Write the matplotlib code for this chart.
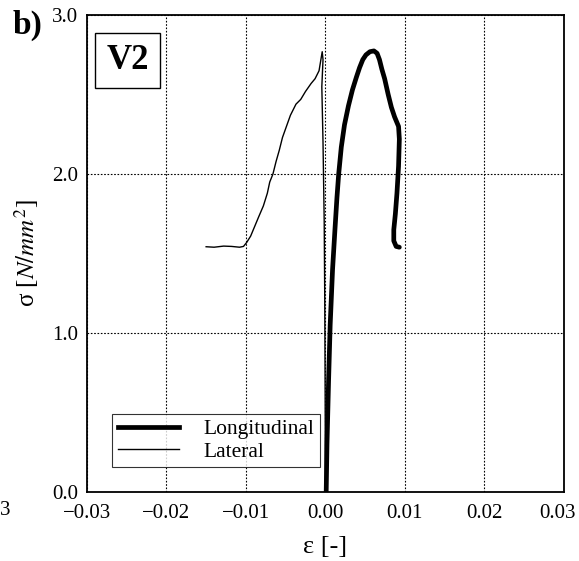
import matplotlib

matplotlib.use("Agg")
import matplotlib.pyplot as plt
import matplotlib.transforms as mtransforms
from matplotlib.lines import Line2D

plt.rcParams["font.family"] = ["Liberation Serif", "DejaVu Serif"]
plt.rcParams["mathtext.fontset"] = "stix"

# Longitudinal strain / stress
long_eps = [0.0001, 0.0002, 0.0004, 0.0006, 0.0009, 0.0012, 0.00145, 0.00167,
            0.0020, 0.0024, 0.0029, 0.0034, 0.0039, 0.0043, 0.0047, 0.0051,
            0.0056, 0.0061, 0.0065, 0.0068, 0.0071, 0.00745, 0.0079, 0.0083,
            0.0087, 0.0092, 0.0093, 0.0092, 0.0090, 0.0088, 0.0086, 0.0086,
            0.0089, 0.0093]
long_sig = [0.0, 0.3, 0.7, 1.05, 1.4, 1.65, 1.85, 2.0,
            2.17, 2.31, 2.43, 2.53, 2.61, 2.67, 2.72, 2.75,
            2.77, 2.775, 2.76, 2.72, 2.66, 2.60, 2.50, 2.42,
            2.36, 2.30, 2.22, 2.05, 1.88, 1.75, 1.65, 1.58,
            1.545, 1.54]

# Lateral strain / stress
lat_eps = [0.0, -0.00003, -0.00008, -0.00015, -0.0003, -0.00045, -0.0003,
           -0.0004, -0.0008, -0.0013, -0.0018, -0.0025, -0.0031, -0.0037,
           -0.0044, -0.0049, -0.0054, -0.0058, -0.0062, -0.0066, -0.0070,
           -0.0073, -0.0078, -0.0084, -0.0089, -0.0094, -0.0099, -0.0103,
           -0.0108, -0.0118, -0.0128, -0.0140, -0.0150]
lat_sig = [0.0, 0.6, 1.2, 1.7, 2.2, 2.55, 2.72,
           2.77, 2.65, 2.60, 2.57, 2.52, 2.47, 2.44,
           2.37, 2.30, 2.23, 2.15, 2.08, 2.00, 1.95,
           1.88, 1.80, 1.73, 1.67, 1.61, 1.57, 1.545,
           1.54, 1.545, 1.547, 1.540, 1.543]

XTICKS = [-0.03, -0.02, -0.01, 0.0, 0.01, 0.02, 0.03]
YTICKS = [0.0, 1.0, 2.0, 3.0]

fig = plt.figure(figsize=(5.79, 5.61), dpi=100)
ax = fig.add_axes([0.150, 0.123, 0.824, 0.850])

ax.plot(long_eps, long_sig, color="black", linewidth=3.4,
        solid_joinstyle="round", solid_capstyle="round")
ax.plot(lat_eps, lat_sig, color="black", linewidth=1.0)

ax.set_xlim(-0.03, 0.03)
ax.set_ylim(0, 3.0)
ax.set_xticks(XTICKS)
ax.set_yticks(YTICKS)
ax.set_xticklabels([f"{t:.2f}".replace("-", "\u2212") for t in XTICKS])
ax.set_yticklabels([f"{t:.1f}" for t in YTICKS])
ax.tick_params(length=0, labelsize=15)
ax.tick_params(axis="x", pad=9)
ax.tick_params(axis="y", pad=6)
ax.grid(True, color="black", linestyle=(0, (1.5, 1.5)), linewidth=0.8)
for s in ax.spines.values():
    s.set_linewidth(1.3)

# the last x label sits a little left of the right spine, as in the source
last = ax.get_xticklabels()[-1]
last.set_transform(last.get_transform()
                   + mtransforms.ScaledTranslation(-6 / 100, 0, fig.dpi_scale_trans))

ax.set_xlabel("ε [-]", fontsize=19, labelpad=9)
ax.set_ylabel(r"σ [$\mathit{N/mm^2}$]", fontsize=18, labelpad=8)

handles = [Line2D([], [], color="black", linewidth=3.4),
           Line2D([], [], color="black", linewidth=1.0)]
leg = ax.legend(handles, ["Longitudinal", "Lateral"], loc="lower left",
                bbox_to_anchor=(0.053, 0.052), fontsize=15.5, frameon=True,
                fancybox=False, edgecolor="black", handlelength=2.85,
                handletextpad=1.15, borderpad=0.25, labelspacing=0.12,
                borderaxespad=0)
leg.get_frame().set_linewidth(0.8)

ax.text(0.085, 0.905, "V2", transform=ax.transAxes, ha="center", va="center",
        fontsize=25, fontweight="bold",
        bbox=dict(boxstyle="square,pad=0.32", facecolor="white",
                  edgecolor="black", linewidth=1.0))

fig.text(0.022, 0.955, "b)", fontsize=24, fontweight="bold", ha="left", va="center")
fig.text(0.0, 0.09, "3", fontsize=15, ha="left", va="center")

fig.savefig("out.png", dpi=100, facecolor="white")
